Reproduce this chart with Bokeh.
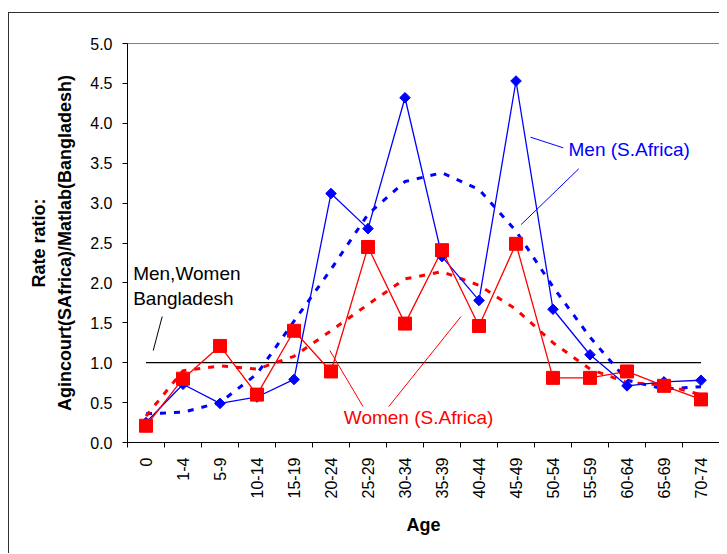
import numpy as np
from bokeh.plotting import figure
from bokeh.models import FixedTicker, Range1d, PrintfTickFormatter
from bokeh.core.properties import value
from bokeh.embed import file_html
from bokeh.resources import INLINE

# ---------------- data ----------------
ages = ["0", "1-4", "5-9", "10-14", "15-19", "20-24", "25-29", "30-34",
        "35-39", "40-44", "45-49", "50-54", "55-59", "60-64", "65-69", "70-74"]
men_safrica = [0.25, 0.73, 0.49, 0.57, 0.79, 3.12, 2.68, 4.32,
               2.33, 1.78, 4.53, 1.67, 1.10, 0.71, 0.76, 0.78]
women_safrica = [0.21, 0.80, 1.21, 0.60, 1.40, 0.89, 2.45, 1.49,
                 2.41, 1.46, 2.49, 0.81, 0.81, 0.89, 0.71, 0.54]
men_trend = [0.36, 0.38, 0.50, 0.86, 1.52, 2.17, 2.86, 3.27,
             3.38, 3.17, 2.65, 1.95, 1.32, 0.78, 0.67, 0.70]
women_trend = [0.33, 0.90, 0.96, 0.92, 1.08, 1.40, 1.73, 2.05,
               2.14, 1.97, 1.67, 1.25, 0.92, 0.75, 0.72, 0.60]
bangladesh = [1.0] * len(ages)
y_ticks = [0.0, 0.5, 1.0, 1.5, 2.0, 2.5, 3.0, 3.5, 4.0, 4.5, 5.0]

FONT = "Liberation Sans"
x = list(range(len(ages)))

p = figure(width=711, height=541, output_backend="svg", toolbar_location=None,
           x_range=Range1d(-0.5, len(ages) - 0.5), y_range=Range1d(0, 5),
           min_border_left=118, min_border_right=1, min_border_top=30,
           min_border_bottom=112)
p.styles = {"margin-left": "8px", "margin-top": "12px",
            "border-left": "1px solid #303030", "border-top": "1px solid #303030"}
p.background_fill_color = "white"
p.border_fill_color = "white"
p.outline_line_color = "#808080"
p.outline_line_width = 1
p.xgrid.visible = False
p.ygrid.visible = False

# x axis
xa = p.xaxis[0]
xa.ticker = FixedTicker(ticks=x, minor_ticks=[i - 0.5 for i in range(len(ages) + 1)])
xa.major_label_overrides = {i: a for i, a in enumerate(ages)}
xa.major_label_orientation = np.pi / 2
xa.major_tick_line_color = None
xa.major_tick_out = 5
xa.major_tick_in = 0
xa.minor_tick_line_color = "black"
xa.minor_tick_out = 5
xa.minor_tick_in = 0
xa.major_label_standoff = 10
xa.major_label_text_font = FONT
xa.major_label_text_font_size = "16px"
xa.major_label_text_color = "black"
xa.axis_line_color = "black"
xa.axis_label = "Age"
xa.axis_label_text_font = FONT
xa.axis_label_text_font_size = "18px"
xa.axis_label_text_font_style = "bold"
xa.axis_label_text_color = "black"
xa.axis_label_standoff = 14

# y axis
ya = p.yaxis[0]
ya.ticker = FixedTicker(ticks=y_ticks, minor_ticks=[])
ya.formatter = PrintfTickFormatter(format="%.1f")
ya.major_tick_out = 5
ya.major_tick_in = 0
ya.major_tick_line_color = "black"
ya.major_label_standoff = 10
ya.major_label_text_font = FONT
ya.major_label_text_font_size = "16px"
ya.major_label_text_color = "black"
ya.axis_line_color = "black"
ya.axis_label = "Rate ratio:\nAgincourt(SAfrica)/Matlab(Bangladesh)"
ya.axis_label_text_font = FONT
ya.axis_label_text_font_size = "18px"
ya.axis_label_text_font_style = "bold"
ya.axis_label_text_color = "black"
ya.axis_label_text_line_height = 1.3
ya.axis_label_standoff = 12

# series
p.line(x, bangladesh, line_color="black", line_width=1.3)
p.line(x, men_trend, line_color="#0000FF", line_width=3, line_dash="6 8")
p.line(x, women_trend, line_color="#FF0000", line_width=3, line_dash="6 8")
p.line(x, men_safrica, line_color="#0000FF", line_width=1.3)
p.scatter(x, men_safrica, marker="square", angle=np.pi / 4, size=7.5,
          fill_color="#0000FF", line_color="#0000FF")
p.line(x, women_safrica, line_color="#FF0000", line_width=1.3)
p.scatter(x, women_safrica, marker="square", size=13,
          fill_color="#FF0000", line_color="#FF0000")

# annotations (callouts)
p.text(x=[-0.347, -0.347], y=[2.114, 1.80], text=["Men,Women", "Bangladesh"],
       text_font=value(FONT), text_font_size="19px", text_color="black",
       text_align="left", text_baseline="middle")
p.segment(x0=[0.438], y0=[1.579], x1=[0.195], y1=[1.153],
          line_color="black", line_width=1)

p.text(x=[11.419], y=[3.672], text=["Men (S.Africa)"],
       text_font=value(FONT), text_font_size="19px", text_color="#0000FF",
       text_align="left", text_baseline="middle")
p.segment(x0=[10.392, 11.697], y0=[3.826, 3.430], x1=[11.276, 10.141], y1=[3.693, 2.732],
          line_color="#0000FF", line_width=1)

p.text(x=[5.346], y=[0.317], text=["Women (S.Africa)"],
       text_font=value(FONT), text_font_size="19px", text_color="#FF0000",
       text_align="left", text_baseline="middle")
p.segment(x0=[4.968, 6.562], y0=[1.153, 0.451], x1=[5.865, 8.514], y1=[0.451, 1.579],
          line_color="#FF0000", line_width=1)

open("out.html", "w").write(file_html(p, INLINE))
